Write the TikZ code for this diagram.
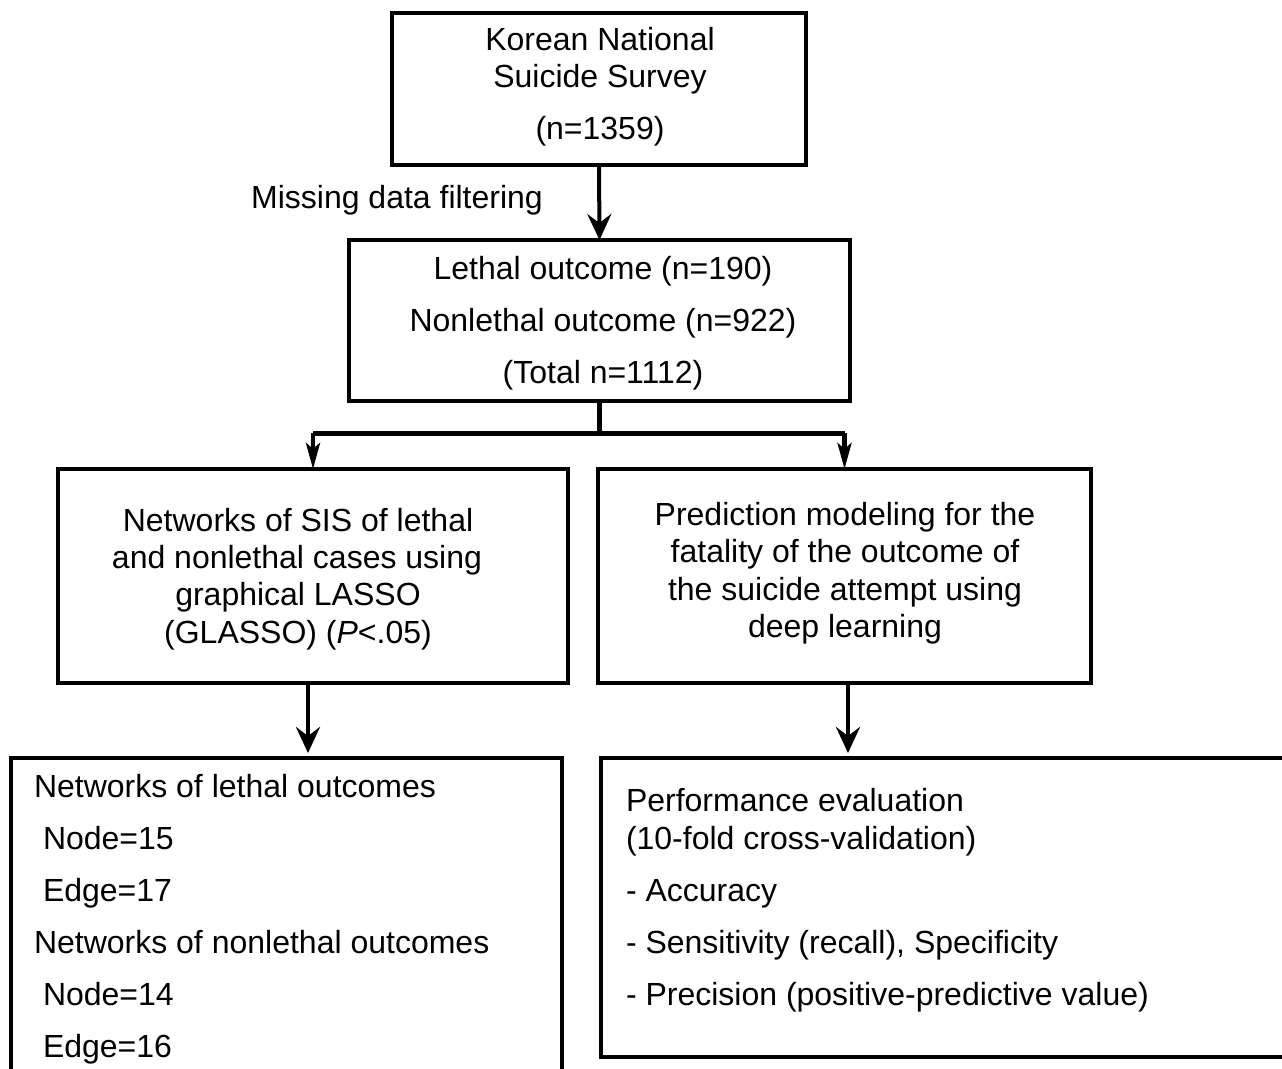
\documentclass[tikz,border=0pt]{standalone}
\usepackage{fontspec}
\setmainfont{Liberation Sans}
\usetikzlibrary{arrows.meta}
\begin{document}
\begin{tikzpicture}[x=1pt,y=-1pt,
  box/.style={draw=black,line width=3.5pt,rectangle,inner sep=0pt,outer sep=0pt,anchor=north west},
  txt/.style={inner sep=0pt,outer sep=0pt,anchor=base,font=\fontsize{32}{37}\selectfont},
  ltxt/.style={txt,anchor=base west},
  arr/.style={line width=4pt,-{Stealth[length=26pt,width=24pt,inset=9pt]}},
  barr/.style={line width=4.5pt,-{Stealth[length=26pt,width=14pt,inset=6pt]}}]
\useasboundingbox (0,0) rectangle (1282,1068);
\fill[white] (0,0) rectangle (1282,1068);
% boxes
\node[box,minimum width=414pt,minimum height=152pt] (b1) at (392,13) {};
\node[box,minimum width=501pt,minimum height=161pt] (b2) at (349,240) {};
\node[box,minimum width=510pt,minimum height=214pt] (b3) at (58,469) {};
\node[box,minimum width=493pt,minimum height=214pt] (b4) at (598,469) {};
\node[box,minimum width=551pt,minimum height=330pt] (b5) at (11,758) {};
\node[box,minimum width=700pt,minimum height=299pt] (b6) at (601,758) {};
% box 1 text
\node[txt] (t1a) at (600,50) {Korean National};
\node[txt] (t1b) at (600,87) {Suicide Survey};
\node[txt] (t1c) at (600,139) {(n=1359)};
\node[txt] (lab) at (397,208) {Missing data filtering};
% box 2 text
\node[txt] (t2a) at (603,279) {Lethal outcome (n=190)};
\node[txt] (t2b) at (603,331) {Nonlethal outcome (n=922)};
\node[txt] (t2c) at (603,383) {(Total n=1112)};
% box 3 text
\node[txt] (t3a) at (298,531) {Networks of SIS of lethal};
\node[txt] (t3b) at (297,568) {and nonlethal cases using};
\node[txt] (t3c) at (298,605) {graphical LASSO};
\node[txt] (t3d) at (298,643) {(GLASSO) (\textit{P}<.05)};
% box 4 text
\node[txt] (t4a) at (845,525) {Prediction modeling for the};
\node[txt] (t4b) at (845,562) {fatality of the outcome of};
\node[txt] (t4c) at (845,600) {the suicide attempt using};
\node[txt] (t4d) at (845,637) {deep learning};
% box 5 text
\node[ltxt] (t5a) at (34,797) {Networks of lethal outcomes};
\node[ltxt] (t5b) at (43,849) {Node=15};
\node[ltxt] (t5c) at (43,901) {Edge=17};
\node[ltxt] (t5d) at (34,953) {Networks of nonlethal outcomes};
\node[ltxt] (t5e) at (43,1005) {Node=14};
\node[ltxt] (t5f) at (43,1057) {Edge=16};
% box 6 text
\node[ltxt] (t6a) at (626,811) {Performance evaluation};
\node[ltxt] (t6b) at (626,849) {(10-fold cross-validation)};
\node[ltxt] (t6c) at (626,901) {- Accuracy};
\node[ltxt] (t6d) at (626,953) {- Sensitivity (recall), Specificity};
\node[ltxt] (t6e) at (626,1005) {- Precision (positive-predictive value)};
% connectors
\draw[arr] (b1.south) -- (b2.north);
\draw[line width=4.5pt] (b2.south) -- ++(0,32) coordinate (j);
\draw[line width=5pt] (j -| b3.north) -- (j -| b4.north);
\draw[barr] (j -| b3.north) -- (b3.north);
\draw[barr] (j -| b4.north) -- (b4.north);
\draw[arr,shorten >=5pt] ([xshift=-5pt]b3.south) -- ([xshift=-5pt]b3.south |- b5.north);
\draw[arr,shorten >=5pt] ([xshift=3.5pt]b4.south) -- ([xshift=3.5pt]b4.south |- b6.north);
\end{tikzpicture}
\end{document}
